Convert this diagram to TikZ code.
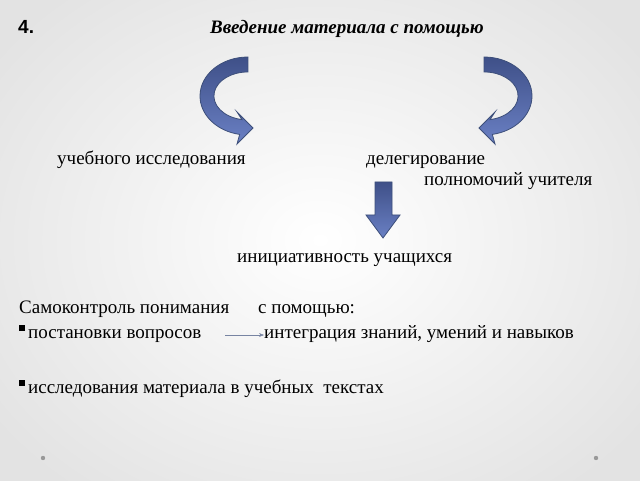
\documentclass[tikz,border=0pt]{standalone}
\usepackage{fontspec}
\setmainfont{Liberation Serif}
\newfontfamily\headfont{Liberation Sans}
\usetikzlibrary{arrows.meta}
\definecolor{arrowline}{HTML}{3D4F7A}
\definecolor{arrowtop}{HTML}{3F5088}
\definecolor{arrowbot}{HTML}{6A80C4}
\tikzset{
  txt/.style={anchor=base west,inner sep=0pt,font=\fontsize{19}{22}\selectfont},
  bend arrow/.style={draw=arrowline,thick,top color=arrowtop,bottom color=arrowbot}
}
\newcommand{\bendpath}{(0,39) arc[start angle=90,end angle=260,x radius=48,y radius=39]
  -- (-11,-48) -- (5,-32) -- (-11,-16) -- (-6,-23.6)
  arc[start angle=260,end angle=90,x radius=34,y radius=24] -- cycle}
\begin{document}
\begin{tikzpicture}[x=1pt,y=1pt]
\useasboundingbox (0,0) rectangle (640,480);
\shade[inner color=white,outer color=gray!22] (-80,-80) rectangle (720,560);
% title
\node[anchor=base west,inner sep=0pt,font=\headfont\bfseries\fontsize{19}{22}\selectfont] (num) at (18,446) {4.};
\node[anchor=base,inner sep=0pt,font=\bfseries\itshape\fontsize{19}{22}\selectfont] (title) at (347,446) {Введение материала с помощью};
% bent arrows
\path[bend arrow,shift={(248,384)}] \bendpath;
\path[bend arrow,shift={(484,384)},xscale=-1] \bendpath;
% middle texts
\node[txt] (study) at (57,315) {учебного исследования};
\node[txt] (deleg) at (366,315) {делегирование};
\node[txt] (powers) at (424,294) {полномочий учителя};
\draw[bend arrow] (375,298) -- (392,298) -- (392,265) -- (400,265) -- (383,242)
  -- (366,265) -- (375,265) -- cycle;
\node[txt] (init) at (237,218) {инициативность учащихся};
% lower block
\node[txt] (self) at (19,167) {Самоконтроль понимания};
\node[txt] (help) at (258,167) {с помощью:};
\fill (19,149) rectangle (25,155);
\node[txt] (quest) at (28,142) {постановки вопросов};
\node[txt] (integ) at (264,142) {интеграция знаний, умений и навыков};
\coordinate (lstart) at (225,145);
\draw[arrowline!70,thin,-{Stealth[length=5pt]}] (lstart) -- (integ.base west |- lstart);
\fill (19,94) rectangle (25,100);
\node[txt] (texts) at (28,87) {исследования материала в учебных\ \ текстах};
% dots
\fill[gray!80] (43,22) circle (2.2);
\fill[gray!80] (596,22) circle (2.2);
\end{tikzpicture}
\end{document}
